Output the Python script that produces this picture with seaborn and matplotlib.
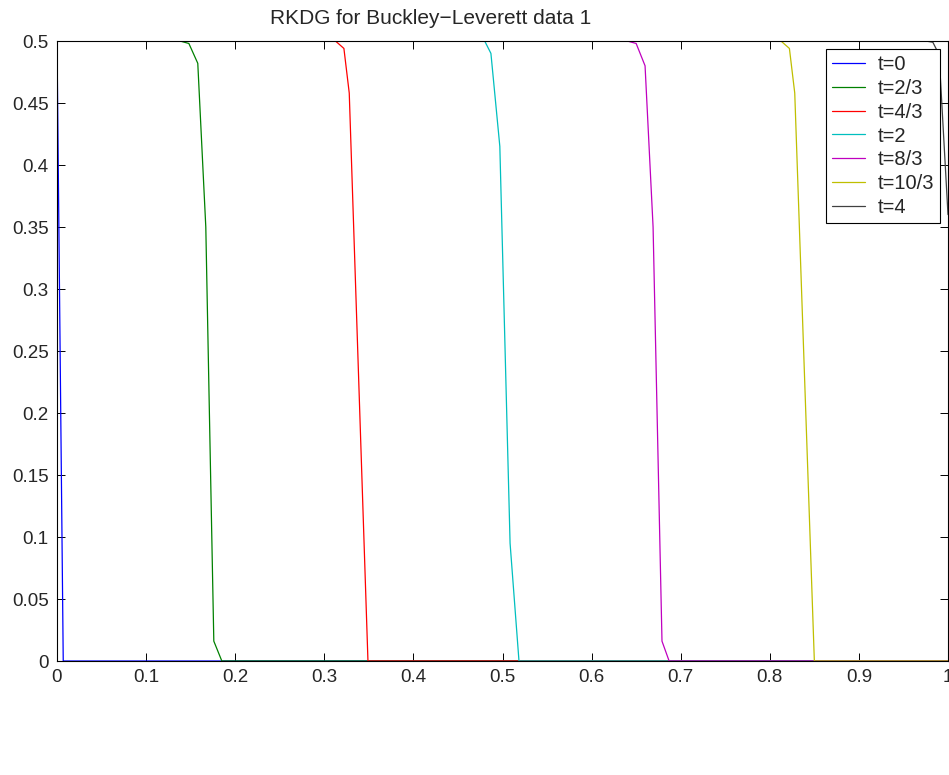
import numpy as np
import pandas as pd
import matplotlib
matplotlib.use("Agg")
import matplotlib.pyplot as plt
import seaborn as sns
from matplotlib.ticker import FormatStrFormatter, FixedLocator

# ---- data ----
labels = ["t=0", "t=2/3", "t=4/3", "t=2", "t=8/3", "t=10/3", "t=4"]

x_t0 = [0.0, 0.007, 1.0]
y_t0 = [0.5, 0.0, 0.0]

x_t23 = [0.0, 0.138, 0.148, 0.158, 0.167, 0.176, 0.185, 1.0]
y_t23 = [0.5, 0.5, 0.498, 0.482, 0.35, 0.016, 0.0, 0.0]

x_t43 = [0.0, 0.305, 0.3125, 0.322, 0.328, 0.349, 1.0]
y_t43 = [0.5, 0.5, 0.5, 0.494, 0.458, 0.0, 0.0]

x_t2 = [0.0, 0.4725, 0.48, 0.487, 0.497, 0.5085, 0.5185, 1.0]
y_t2 = [0.5, 0.5, 0.5, 0.49, 0.415, 0.095, 0.0, 0.0]

x_t83 = [0.0, 0.640, 0.650, 0.660, 0.669, 0.679, 0.687, 1.0]
y_t83 = [0.5, 0.5, 0.498, 0.48, 0.35, 0.016, 0.0, 0.0]

x_t103 = [0.0, 0.805, 0.8125, 0.822, 0.828, 0.850, 1.0]
y_t103 = [0.5, 0.5, 0.5, 0.494, 0.458, 0.0, 0.0]

x_t4 = [0.0, 0.975, 0.983, 0.990, 1.0]
y_t4 = [0.5, 0.5, 0.499, 0.489, 0.36]

xs = [x_t0, x_t23, x_t43, x_t2, x_t83, x_t103, x_t4]
ys = [y_t0, y_t23, y_t43, y_t2, y_t83, y_t103, y_t4]

colors = [(0, 0, 1), (0, 0.5, 0), (1, 0, 0), (0, 0.75, 0.75),
          (0.75, 0, 0.75), (0.75, 0.75, 0), (0.25, 0.25, 0.25)]

x_ticks = [0, 0.1, 0.2, 0.3, 0.4, 0.5, 0.6, 0.7, 0.8, 0.9, 1.0]
y_ticks = [0, 0.05, 0.1, 0.15, 0.2, 0.25, 0.3, 0.35, 0.4, 0.45, 0.5]
title = "RKDG for Buckley\u2212Leverett data 1"

rows = []
for lab, xx, yy in zip(labels, xs, ys):
    for i, (a, b) in enumerate(zip(xx, yy)):
        rows.append({"x": a, "y": b, "t": lab, "order": i})
df = pd.DataFrame(rows)

sns.set_style("white")
plt.rcParams["font.family"] = ["Liberation Sans", "DejaVu Sans"]

W, H = 949, 775
fig = plt.figure(figsize=(W / 100, H / 100), dpi=100)
ax = fig.add_axes([57 / W, 1 - 661 / H, (948 - 57) / W, (661 - 41) / H])

sns.lineplot(data=df, x="x", y="y", hue="t", hue_order=labels,
             palette=dict(zip(labels, colors)), sort=False, estimator=None,
             units="t", linewidth=0.9, ax=ax, legend=True)

ax.set_xlim(0, 1)
ax.set_ylim(0, 0.5)
ax.xaxis.set_major_locator(FixedLocator(x_ticks))
ax.yaxis.set_major_locator(FixedLocator(y_ticks))
ax.xaxis.set_major_formatter(FormatStrFormatter("%g"))
ax.yaxis.set_major_formatter(FormatStrFormatter("%g"))
ax.set_xlabel("")
ax.set_ylabel("")
ax.tick_params(axis="both", which="major", direction="in", length=6,
               width=0.7, color="black", labelsize=13.5, pad=6,
               top=True, right=True, bottom=True, left=True)
for s in ax.spines.values():
    s.set_visible(True)
    s.set_color("black")
    s.set_linewidth(0.8)

leg = ax.legend(loc="upper right", bbox_to_anchor=(940 / W, 1 - 49 / H),
                bbox_transform=fig.transFigure, borderaxespad=0,
                fontsize=14.5, frameon=True, fancybox=False, shadow=False,
                framealpha=1, edgecolor="black", handlelength=1.65,
                handletextpad=0.6, labelspacing=0.24, borderpad=0.3)
leg.get_frame().set_linewidth(0.8)

fig.text(431 / W, 1 - 18 / H, title, ha="center", va="center", fontsize=15)

fig.savefig("out.png", dpi=100)
